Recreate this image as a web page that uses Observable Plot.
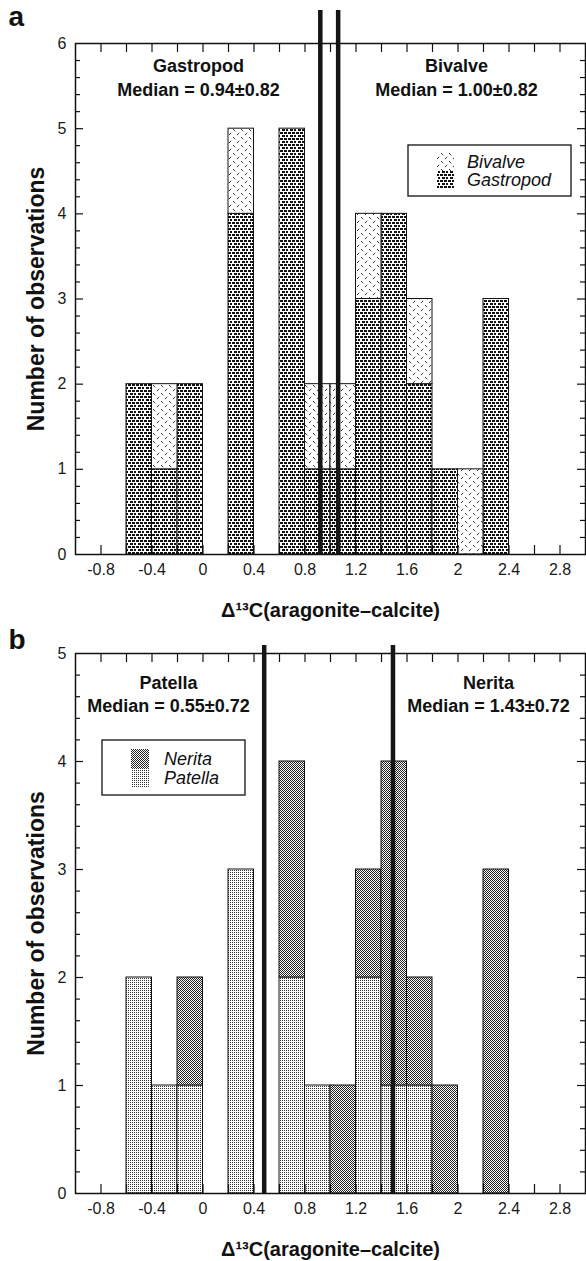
<!DOCTYPE html>
<html><head><meta charset="utf-8">
<script src="https://cdn.jsdelivr.net/npm/d3@7"></script>
<script src="https://cdn.jsdelivr.net/npm/@observablehq/plot@0.6"></script>
<style>
html,body{margin:0;padding:0;background:#fff;}
#chart{width:586px;}
#chart svg{display:block;}
</style></head><body><div id="chart"></div>
<script>
// ---------- data ----------
const binStarts = [-0.6,-0.4,-0.2,0.0,0.2,0.4,0.6,0.8,1.0,1.2,1.4,1.6,1.8,2.0,2.2];
const binWidth = 0.2;
// panel a (gastropod stacked below bivalve)
const gastropod = [2,1,2,0,4,0,5,1,1,3,4,2,1,0,3];
const bivalve   = [0,1,0,0,1,0,0,1,1,1,0,1,0,1,0];
// panel b (patella stacked below nerita)
const patella = [2,1,1,0,3,0,2,1,0,2,1,1,0,0,0];
const nerita  = [0,0,1,0,0,0,2,0,1,1,3,1,1,0,3];
// median lines (positions)
const medianLinesA = [0.92, 1.06];
const medianLinesB = [0.48, 1.49];
const medianLabelsA = [["Gastropod","Median = 0.94±0.82"],["Bivalve","Median = 1.00±0.82"]];
const medianLabelsB = [["Patella","Median = 0.55±0.72"],["Nerita","Median = 1.43±0.72"]];
const legendA = ["Bivalve","Gastropod"];
const legendB = ["Nerita","Patella"];
const xTickLabels = [-0.8,-0.4,0,0.4,0.8,1.2,1.6,2,2.4,2.8];
const xMinor = d3.range(-4, 15).map(i => i / 5);
const xDomain = [-1, 3];
const yTitle = "Number of observations";
const xTitle = "Δ¹³C(aragonite–calcite)";

// ---------- helpers ----------
const W = 586, ML = 75, MR = 1;
const INK = "#111";
const FONT = "'Liberation Sans', Arial, Helvetica, sans-serif";
const ns = "http://www.w3.org/2000/svg";
function el(name, attrs, parent) {
  const e = document.createElementNS(ns, name);
  for (const k in attrs) e.setAttribute(k, attrs[k]);
  if (parent) parent.appendChild(e);
  return e;
}
function addPatterns(defs, prefix) {
  // gastropod: staggered black bricks
  let p = el("pattern", {id: prefix + "gast", width: 8, height: 6, patternUnits: "userSpaceOnUse"}, defs);
  el("rect", {width: 8, height: 6, fill: "#fff"}, p);
  for (const [x, y] of [[0,0],[4,0],[2,3],[6,3]]) el("rect", {x, y, width: 3, height: 2, fill: INK}, p);
  // bivalve: sparse short diagonal dashes
  p = el("pattern", {id: prefix + "biv", width: 8, height: 8, patternUnits: "userSpaceOnUse"}, defs);
  el("rect", {width: 8, height: 8, fill: "#fff"}, p);
  el("path", {d: "M1,1L3.3,3.3M5,7L7.2,4.8", stroke: "#222", "stroke-width": 0.9, fill: "none"}, p);
  // nerita: fine checker (dark grey)
  p = el("pattern", {id: prefix + "ner", width: 2, height: 2, patternUnits: "userSpaceOnUse"}, defs);
  el("rect", {width: 2, height: 2, fill: "#fff"}, p);
  el("rect", {x: 0, y: 0, width: 1, height: 1, fill: "#222"}, p);
  el("rect", {x: 1, y: 1, width: 1, height: 1, fill: "#222"}, p);
  // patella: fine light dots
  p = el("pattern", {id: prefix + "pat", width: 2, height: 2, patternUnits: "userSpaceOnUse"}, defs);
  el("rect", {width: 2, height: 2, fill: "#fff"}, p);
  el("rect", {x: 0, y: 0, width: 1, height: 1, fill: "#333"}, p);
}

function panel(cfg) {
  const {height, mt, mb, yMax, lower, upper, lowerFill, upperFill, medians, labels, labelPos,
         legend, legendFills, legendBox, letter, lineExt, prefix} = cfg;
  const fw = W - ML - MR, fh = height - mt - mb;
  const rows = binStarts.map((x, i) => ({x1: x, x2: x + binWidth, lo: lower[i], up: upper[i]}));
  const yAll = d3.range(1, yMax * 5).map(i => i / 5);
  const yMajor = yAll.filter(v => Number.isInteger(+v.toFixed(6)));
  const yMin = yAll.filter(v => !Number.isInteger(+v.toFixed(6)));

  const defsMark = () => {
    const g = el("g", {});
    const defs = el("defs", {}, g);
    addPatterns(defs, prefix);
    return g;
  };
  const legendMark = () => {
    const g = el("g", {"text-anchor": "start"});
    const b = legendBox;
    el("rect", {x: b.x, y: b.y, width: b.w, height: b.h, fill: "#fff", stroke: INK, "stroke-width": 1.3}, g);
    legend.forEach((name, i) => {
      const sy = b.y + b.sy + i * b.step;
      el("rect", {x: b.x + b.sx, y: sy, width: b.sw, height: b.step, fill: `url(#${prefix}${legendFills[i]})`}, g);
      const t = el("text", {x: b.x + b.tx, y: sy + b.step / 2, dy: "0.36em", "font-style": "italic",
        "text-anchor": "start", "font-size": 18, "font-family": FONT, fill: INK}, g);
      t.textContent = name;
    });
    return g;
  };

  const marks = [
    defsMark,
    Plot.rect(rows.filter(d => d.lo > 0), {x1: "x1", x2: "x2", y1: () => 0, y2: "lo",
      fill: `url(#${prefix}${lowerFill})`, stroke: INK, strokeWidth: 1}),
    Plot.rect(rows.filter(d => d.up > 0), {x1: "x1", x2: "x2", y1: "lo", y2: d => d.lo + d.up,
      fill: `url(#${prefix}${upperFill})`, stroke: INK, strokeWidth: 1}),
    Plot.ruleX(medians, {x: d => d, insetTop: -lineExt, stroke: "#151515", strokeWidth: 4.5}),
    // inward ticks on all four sides
    Plot.ruleX(xMinor, {x: d => d, insetTop: fh - 9, stroke: INK, strokeWidth: 1.2}),
    Plot.ruleX(xMinor, {x: d => d, insetBottom: fh - 9, stroke: INK, strokeWidth: 1.2}),
    Plot.ruleY(yMajor, {y: d => d, insetRight: fw - 8, stroke: INK, strokeWidth: 1.2}),
    Plot.ruleY(yMin, {y: d => d, insetRight: fw - 5, stroke: INK, strokeWidth: 1.2}),
    Plot.ruleY(yMajor, {y: d => d, insetLeft: fw - 8, stroke: INK, strokeWidth: 1.2}),
    Plot.ruleY(yMin, {y: d => d, insetLeft: fw - 5, stroke: INK, strokeWidth: 1.2}),
    Plot.frame({stroke: INK, strokeWidth: 1.5}),
    Plot.axisX(xTickLabels, {tickSize: 0, tickPadding: 9, fontSize: 16, label: null,
      tickFormat: d => String(d), fill: "#1a1a1a"}),
    Plot.axisY(d3.range(0, yMax + 1), {tickSize: 0, tickPadding: 9, fontSize: 16, label: null,
      tickFormat: d => String(d), fill: "#1a1a1a"}),
    Plot.text([yTitle], {frameAnchor: "left", dx: -39, rotate: -90, fontSize: 23, fontWeight: "bold",
      textAnchor: "middle", lineAnchor: "middle", fill: INK}),
    Plot.text([xTitle], {frameAnchor: "bottom", dy: 56, fontSize: 20, fontWeight: "bold",
      textAnchor: "middle", lineAnchor: "middle", fill: INK}),
    Plot.text([letter], {frameAnchor: "top-left", dx: letter.dx, dy: letter.dy, text: () => letter.t,
      fontSize: 28, fontWeight: "bold", textAnchor: "start", lineAnchor: "middle", fill: INK}),
    legendMark
  ];
  labels.forEach(([name, med], i) => {
    const p = labelPos[i];
    marks.push(Plot.text([name], {frameAnchor: "top-left", dx: p.x - ML, dy: p.y1 - mt, fontSize: 18,
      fontWeight: "bold", textAnchor: "middle", lineAnchor: "middle", fill: INK}));
    marks.push(Plot.text([med], {frameAnchor: "top-left", dx: p.x - ML, dy: p.y2 - mt, fontSize: 18,
      fontWeight: "bold", textAnchor: "middle", lineAnchor: "middle", fill: INK}));
  });

  return Plot.plot({
    width: W, height,
    marginLeft: ML, marginRight: MR, marginTop: mt, marginBottom: mb,
    x: {domain: xDomain},
    y: {domain: [0, yMax]},
    style: {fontFamily: FONT, fontSize: "16px", background: "#fff", color: INK, overflow: "visible"},
    marks
  });
}

const chart = document.getElementById("chart");
chart.appendChild(panel({
  prefix: "a-", height: 620, mt: 43, mb: 66, yMax: 6,
  lower: gastropod, upper: bivalve, lowerFill: "gast", upperFill: "biv",
  medians: medianLinesA, lineExt: 33,
  labels: medianLabelsA, labelPos: [{x: 198, y1: 66, y2: 90}, {x: 456, y1: 66, y2: 90}],
  legend: legendA, legendFills: ["biv", "gast"],
  legendBox: {x: 408, y: 145, w: 163, h: 51, sx: 29, sy: 8, sw: 17, step: 18, tx: 59},
  letter: {t: "a", dx: -67, dy: -26}
}));
chart.appendChild(panel({
  prefix: "b-", height: 641, mt: 33, mb: 68, yMax: 5,
  lower: patella, upper: nerita, lowerFill: "pat", upperFill: "ner",
  medians: medianLinesB, lineExt: 8,
  labels: medianLabelsB, labelPos: [{x: 168, y1: 63, y2: 86}, {x: 488, y1: 63, y2: 86}],
  legend: legendB, legendFills: ["ner", "pat"],
  legendBox: {x: 102, y: 120, w: 143, h: 55, sx: 29, sy: 9, sw: 18, step: 19, tx: 62},
  letter: {t: "b", dx: -67, dy: -13}
}));
</script>
</body></html>
